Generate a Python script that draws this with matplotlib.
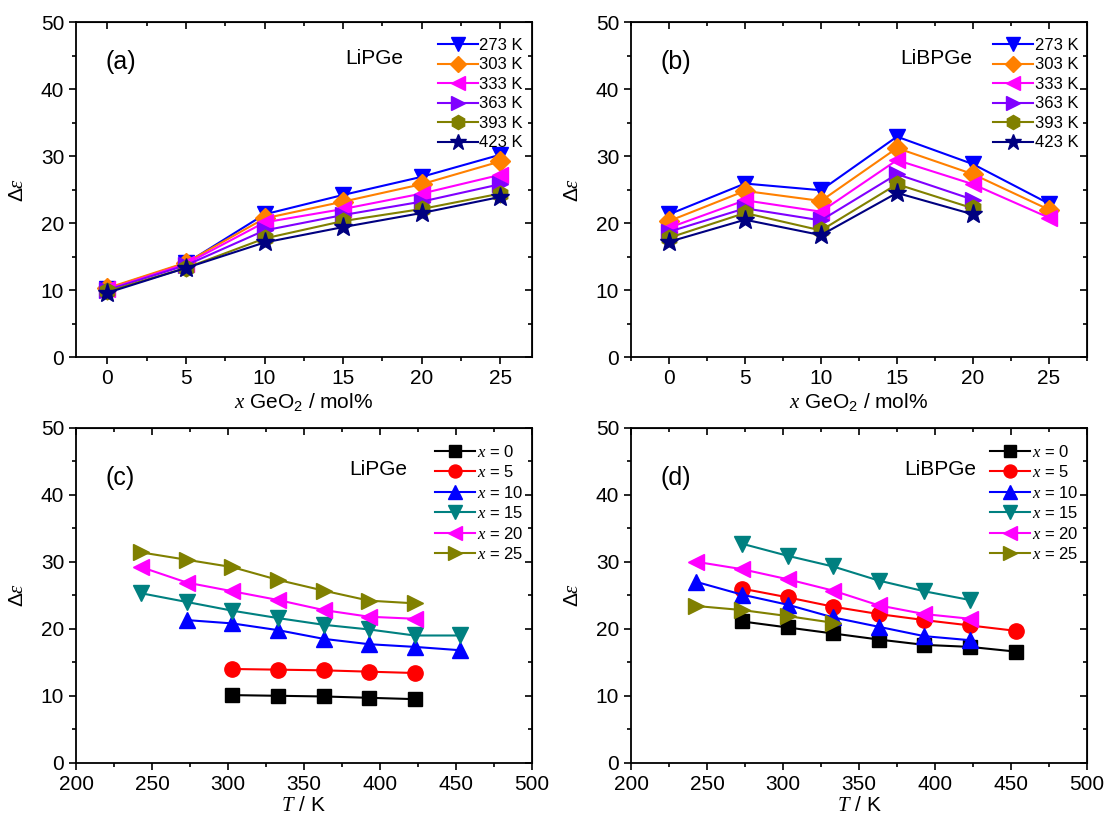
import numpy as np
import matplotlib
matplotlib.use("Agg")
import matplotlib.pyplot as plt
from matplotlib.ticker import MultipleLocator

plt.rcParams['font.family'] = ['Liberation Sans', 'DejaVu Sans']
plt.rcParams['mathtext.fontset'] = 'custom'
plt.rcParams['mathtext.rm'] = 'Liberation Sans'
plt.rcParams['mathtext.it'] = 'Liberation Serif:italic'
plt.rcParams['mathtext.default'] = 'it'

# composition x (mol% GeO2) and temperatures
x_comp = [0, 5, 10, 15, 20, 25]
temps_ab = ['273 K', '303 K', '333 K', '363 K', '393 K', '423 K']

# panel (a) LiPGe, rows = temperature
a_vals = [
    [10.2, 14.0, 21.3, 24.2, 26.9, 30.2],
    [10.3, 14.1, 20.7, 23.2, 25.8, 29.2],
    [10.1, 13.9, 20.1, 22.1, 24.4, 27.2],
    [10.0, 13.7, 18.9, 21.2, 23.2, 25.8],
    [9.8, 13.3, 17.7, 20.3, 22.1, 24.4],
    [9.6, 13.3, 17.1, 19.4, 21.5, 23.9],
]
# panel (b) LiBPGe (x=25 only measured at lowest three temperatures)
b_vals = [
    [21.3, 25.9, 24.9, 32.9, 28.8, 22.9],
    [20.3, 24.8, 23.3, 31.2, 27.3, 22.0],
    [19.3, 23.4, 21.7, 29.4, 25.8, 20.8],
    [18.7, 22.2, 20.4, 27.3, 23.5, np.nan],
    [17.8, 21.5, 18.9, 25.8, 22.2, np.nan],
    [17.2, 20.5, 18.2, 24.5, 21.3, np.nan],
]

T = [243, 273, 303, 333, 363, 393, 423, 453]
x_labels = ['$x$ = 0', '$x$ = 5', '$x$ = 10', '$x$ = 15', '$x$ = 20', '$x$ = 25']
nan = np.nan
# panel (c) LiPGe vs T
c_vals = [
    [nan, nan, 10.1, 10.0, 9.9, 9.7, 9.5, nan],
    [nan, nan, 14.0, 13.9, 13.8, 13.6, 13.4, nan],
    [nan, 21.3, 20.8, 19.8, 18.5, 17.7, 17.3, 16.8],
    [25.3, 24.0, 22.7, 21.6, 20.6, 19.9, 19.0, 19.0],
    [29.2, 26.9, 25.6, 24.3, 22.8, 21.8, 21.5, nan],
    [31.4, 30.3, 29.2, 27.3, 25.7, 24.2, 23.8, nan],
]
# panel (d) LiBPGe vs T
d_vals = [
    [nan, 21.1, 20.2, 19.3, 18.4, 17.6, 17.3, 16.6],
    [nan, 26.0, 24.7, 23.3, 22.2, 21.3, 20.5, 19.7],
    [27.0, 25.1, 23.6, 21.7, 20.3, 18.9, 18.3, nan],
    [nan, 32.7, 30.9, 29.3, 27.2, 25.6, 24.3, nan],
    [30.0, 28.9, 27.4, 25.7, 23.5, 22.2, 21.5, nan],
    [23.4, 22.8, 21.9, 20.9, nan, nan, nan, nan],
]

ab_colors = ['#0000FF', '#FF8000', '#FF00FF', '#8000FF', '#808000', '#000080']
ab_markers = ['v', 'D', '<', '>', 'h', '*']
ab_sizes = [12, 10, 12, 12, 12, 14]
cd_colors = ['#000000', '#FF0000', '#0000FF', '#008080', '#FF00FF', '#808000']
cd_markers = ['s', 'o', '^', 'v', '<', '>']
cd_sizes = [10, 11, 12, 12, 12, 12]

fig = plt.figure(figsize=(11.08, 8.18), dpi=100)
axa = fig.add_axes([0.0686, 0.5635, 0.4112, 0.4095])
axb = fig.add_axes([0.5695, 0.5635, 0.4115, 0.4095])
axc = fig.add_axes([0.0686, 0.0675, 0.4112, 0.4095])
axd = fig.add_axes([0.5695, 0.0675, 0.4115, 0.4095])


def style(ax):
    ax.set_ylim(0, 50)
    ax.yaxis.set_major_locator(MultipleLocator(10))
    ax.yaxis.set_minor_locator(MultipleLocator(5))
    for s in ax.spines.values():
        s.set_linewidth(1.3)
    ax.tick_params(which='both', labelsize=15, width=1.2)
    ax.tick_params(which='major', length=5)
    ax.tick_params(which='minor', length=3)
    ax.set_ylabel(r'$\mathrm{\Delta}\varepsilon$', fontsize=15, labelpad=10)
    # mirrored ticks on top/right pointing inward
    sx = ax.secondary_xaxis('top')
    sx.tick_params(which='both', direction='in', labeltop=False, width=1.2)
    sx.tick_params(which='major', length=5)
    sx.tick_params(which='minor', length=3)
    sy = ax.secondary_yaxis('right')
    sy.tick_params(which='both', direction='in', labelright=False, width=1.2)
    sy.tick_params(which='major', length=5)
    sy.tick_params(which='minor', length=3)
    return sx, sy


leg_kw = dict(loc='upper right', bbox_to_anchor=(1.016, 1.0), frameon=False,
              fontsize=12, handlelength=2.4, handletextpad=0.1,
              labelspacing=0.27, borderaxespad=0.55, markerscale=0.85)

for ax, vals, tag, name, xl in [(axa, a_vals, '(a)', 'LiPGe', (-2, 27)),
                                (axb, b_vals, '(b)', 'LiBPGe', (-2.5, 27.5))]:
    for i, row in enumerate(vals):
        ax.plot(x_comp, row, color=ab_colors[i], marker=ab_markers[i],
                markersize=ab_sizes[i], lw=1.5, label=temps_ab[i])
    ax.set_xlim(*xl)
    ax.xaxis.set_major_locator(MultipleLocator(5))
    ax.xaxis.set_minor_locator(MultipleLocator(2.5))
    sx, sy = style(ax)
    sx.xaxis.set_major_locator(MultipleLocator(5))
    sx.xaxis.set_minor_locator(MultipleLocator(2.5))
    sy.yaxis.set_major_locator(MultipleLocator(10))
    sy.yaxis.set_minor_locator(MultipleLocator(5))
    ax.set_xlabel(r'$x$ GeO$_\mathrm{2}$ / mol%', fontsize=15, labelpad=2)
    ax.text(0.065, 0.86, tag, transform=ax.transAxes, fontsize=18)
    ax.text(0.59, 0.875, name, transform=ax.transAxes, fontsize=15)
    ax.legend(**leg_kw)

for ax, vals, tag, name in [(axc, c_vals, '(c)', 'LiPGe'),
                            (axd, d_vals, '(d)', 'LiBPGe')]:
    for i, row in enumerate(vals):
        ax.plot(T, row, color=cd_colors[i], marker=cd_markers[i],
                markersize=cd_sizes[i], lw=1.5, label=x_labels[i])
    ax.set_xlim(200, 500)
    ax.xaxis.set_major_locator(MultipleLocator(50))
    ax.xaxis.set_minor_locator(MultipleLocator(25))
    sx, sy = style(ax)
    sx.xaxis.set_major_locator(MultipleLocator(50))
    sx.xaxis.set_minor_locator(MultipleLocator(25))
    sy.yaxis.set_major_locator(MultipleLocator(10))
    sy.yaxis.set_minor_locator(MultipleLocator(5))
    ax.set_xlabel(r'$T$ / K', fontsize=15, labelpad=2)
    ax.text(0.065, 0.83, tag, transform=ax.transAxes, fontsize=18)
    ax.text(0.6, 0.86, name, transform=ax.transAxes, fontsize=15)
    ax.legend(**leg_kw)

fig.savefig('out.png', dpi=100)
